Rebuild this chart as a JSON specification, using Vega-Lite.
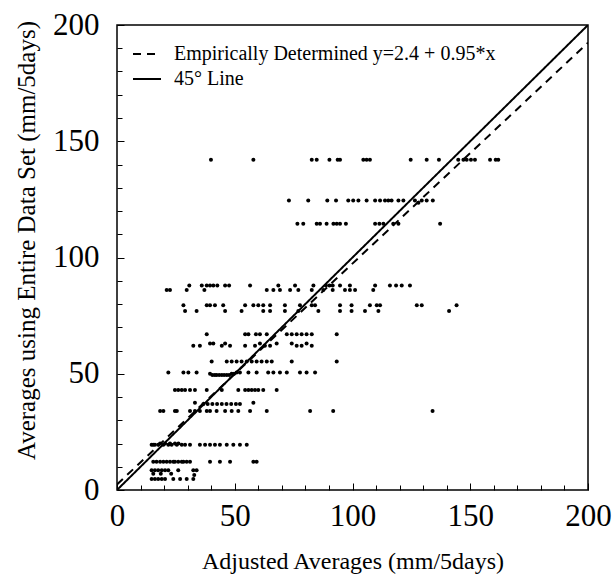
{
  "$schema": "https://vega.github.io/schema/vega-lite/v6.json",
  "width": 471,
  "height": 465,
  "autosize": {"type": "none"},
  "padding": {"left": 117, "top": 25, "right": 27, "bottom": 90},
  "background": "white",
  "config": {
    "font": "Liberation Serif",
    "view": {"stroke": "black", "strokeWidth": 1.5},
    "axis": {
      "grid": false,
      "domain": false,
      "tickColor": "black",
      "tickSize": -5,
      "tickWidth": 1,
      "labelColor": "black",
      "titleColor": "black",
      "labelFont": "Liberation Serif",
      "titleFont": "Liberation Serif",
      "labelFontSize": 31,
      "titleFontSize": 24,
      "titleFontWeight": "normal",
      "labelFlush": false,
      "labelOverlap": false
    }
  },
  "resolve": {"axis": {"x": "independent", "y": "independent"}},
  "datasets": {
    "pts": [
      {"x": 39.9, "y": 142}, {"x": 57.9, "y": 142}, {"x": 82.7, "y": 142}, {"x": 84.8, "y": 142}, {"x": 90.2, "y": 142}, {"x": 93.7, "y": 142}, {"x": 94.7, "y": 142}, {"x": 104.6, "y": 142}, {"x": 106, "y": 142}, {"x": 107.4, "y": 142}, {"x": 124.7, "y": 142}, {"x": 131.5, "y": 142}, {"x": 136.7, "y": 142}, {"x": 144.9, "y": 142}, {"x": 147.1, "y": 142}, {"x": 148.5, "y": 142}, {"x": 150.3, "y": 142}, {"x": 152, "y": 142}, {"x": 158.4, "y": 142}, {"x": 160.8, "y": 142}, {"x": 161.9, "y": 142},
      {"x": 73.0, "y": 124.5}, {"x": 81.2, "y": 124.5}, {"x": 89.3, "y": 124.5}, {"x": 93.0, "y": 124.5}, {"x": 98.2, "y": 124.5}, {"x": 100.3, "y": 124.5}, {"x": 102.5, "y": 124.5}, {"x": 106.0, "y": 124.5}, {"x": 109.6, "y": 124.5}, {"x": 111.7, "y": 124.5}, {"x": 113.8, "y": 124.5}, {"x": 115.2, "y": 124.5}, {"x": 116.6, "y": 124.5}, {"x": 119.5, "y": 124.5}, {"x": 121.6, "y": 124.5}, {"x": 126.5, "y": 124.5}, {"x": 128.0, "y": 123.5}, {"x": 129.4, "y": 124.5}, {"x": 131.5, "y": 124.5}, {"x": 134.1, "y": 124.5},
      {"x": 76.6, "y": 114.5}, {"x": 79.1, "y": 114.5}, {"x": 84.8, "y": 114.5}, {"x": 86.2, "y": 114.5}, {"x": 89.0, "y": 114.5}, {"x": 91.9, "y": 114.5}, {"x": 93.3, "y": 114.5}, {"x": 94.7, "y": 114.5}, {"x": 97.2, "y": 114.5}, {"x": 109.6, "y": 114.5}, {"x": 111.4, "y": 114.5}, {"x": 113.1, "y": 114.5}, {"x": 117.3, "y": 114.5}, {"x": 119.5, "y": 114.5}, {"x": 137.2, "y": 114.5},
      {"x": 30.7, "y": 88}, {"x": 36.0, "y": 88}, {"x": 38.1, "y": 88}, {"x": 39.5, "y": 88}, {"x": 40.9, "y": 88}, {"x": 42.6, "y": 88}, {"x": 45.9, "y": 88}, {"x": 47.6, "y": 88}, {"x": 56.5, "y": 88}, {"x": 68.5, "y": 88}, {"x": 75.6, "y": 88}, {"x": 83.4, "y": 88}, {"x": 88.7, "y": 88}, {"x": 90.2, "y": 88}, {"x": 91.6, "y": 88}, {"x": 94.7, "y": 88}, {"x": 98.9, "y": 88}, {"x": 109.6, "y": 88}, {"x": 115.9, "y": 88}, {"x": 118.5, "y": 88}, {"x": 120.9, "y": 88}, {"x": 124.4, "y": 88},
      {"x": 21.1, "y": 86}, {"x": 22.5, "y": 86}, {"x": 29.6, "y": 86}, {"x": 37.1, "y": 86}, {"x": 63.6, "y": 86}, {"x": 66.4, "y": 86}, {"x": 69.2, "y": 86}, {"x": 73.5, "y": 86}, {"x": 77.0, "y": 86}, {"x": 82.7, "y": 86}, {"x": 87.6, "y": 86}, {"x": 91.6, "y": 86}, {"x": 96.8, "y": 86}, {"x": 98.9, "y": 86}, {"x": 101.1, "y": 86}, {"x": 108.8, "y": 86},
      {"x": 28.2, "y": 79.5}, {"x": 38.1, "y": 79.5}, {"x": 39.5, "y": 79.5}, {"x": 41.6, "y": 79.5}, {"x": 45.1, "y": 79.5}, {"x": 54.4, "y": 79.5}, {"x": 57.9, "y": 79.5}, {"x": 60.0, "y": 79.5}, {"x": 62.1, "y": 79.5}, {"x": 65.0, "y": 79.5}, {"x": 71.3, "y": 79.5}, {"x": 77.7, "y": 79.5}, {"x": 82.7, "y": 79.5}, {"x": 84.1, "y": 79.5}, {"x": 94.7, "y": 79.5}, {"x": 99.6, "y": 79.5}, {"x": 107.4, "y": 79.5}, {"x": 110.3, "y": 79.5}, {"x": 111.7, "y": 79.5}, {"x": 127.3, "y": 79.5}, {"x": 129.4, "y": 79.5}, {"x": 144.2, "y": 79.5},
      {"x": 28.9, "y": 77}, {"x": 33.8, "y": 77}, {"x": 45.9, "y": 77}, {"x": 52.9, "y": 77}, {"x": 62.1, "y": 77}, {"x": 65.0, "y": 77}, {"x": 71.3, "y": 77}, {"x": 77.0, "y": 77}, {"x": 85.5, "y": 77}, {"x": 94.7, "y": 77}, {"x": 99.6, "y": 77}, {"x": 105.3, "y": 77}, {"x": 111.0, "y": 77}, {"x": 141.0, "y": 77},
      {"x": 38.1, "y": 67}, {"x": 54.4, "y": 67}, {"x": 55.8, "y": 67}, {"x": 59.0, "y": 67}, {"x": 60.7, "y": 67}, {"x": 63.6, "y": 67}, {"x": 72.1, "y": 67}, {"x": 74.2, "y": 67}, {"x": 76.3, "y": 67}, {"x": 78.4, "y": 67}, {"x": 80.5, "y": 67}, {"x": 82.7, "y": 67}, {"x": 93.3, "y": 67},
      {"x": 32.4, "y": 62}, {"x": 35.2, "y": 62}, {"x": 39.5, "y": 63}, {"x": 40.9, "y": 63}, {"x": 44.5, "y": 62}, {"x": 45.9, "y": 63}, {"x": 48.0, "y": 62}, {"x": 54.4, "y": 62}, {"x": 58.6, "y": 62}, {"x": 60.7, "y": 63}, {"x": 62.8, "y": 62}, {"x": 65.0, "y": 62}, {"x": 67.8, "y": 63}, {"x": 74.2, "y": 63}, {"x": 76.3, "y": 62}, {"x": 78.4, "y": 62}, {"x": 80.5, "y": 63}, {"x": 82.7, "y": 62},
      {"x": 40.2, "y": 55.3}, {"x": 46.6, "y": 55.3}, {"x": 48.7, "y": 55.3}, {"x": 50.8, "y": 55.3}, {"x": 52.9, "y": 55.3}, {"x": 55.1, "y": 55.3}, {"x": 57.2, "y": 55.3}, {"x": 59.3, "y": 55.3}, {"x": 61.4, "y": 55.3}, {"x": 63.6, "y": 55.3}, {"x": 65.7, "y": 55.3}, {"x": 74.2, "y": 55.3}, {"x": 93.3, "y": 55.3},
      {"x": 21.8, "y": 50.5}, {"x": 28.2, "y": 50.5}, {"x": 30.3, "y": 50.5}, {"x": 33.8, "y": 50.5}, {"x": 39.5, "y": 50}, {"x": 40.5, "y": 49.5}, {"x": 41.5, "y": 49.5}, {"x": 42.3, "y": 49.5}, {"x": 43.4, "y": 49.5}, {"x": 44.5, "y": 49.5}, {"x": 45.5, "y": 49.5}, {"x": 46.6, "y": 49.5}, {"x": 47.6, "y": 49.5}, {"x": 48.7, "y": 50}, {"x": 49.7, "y": 50}, {"x": 50.8, "y": 50.5}, {"x": 52.2, "y": 50.5}, {"x": 55.8, "y": 50.5}, {"x": 59.3, "y": 50.5}, {"x": 64.2, "y": 50.5}, {"x": 66.4, "y": 50.5}, {"x": 69.2, "y": 50.5}, {"x": 72.1, "y": 50.5}, {"x": 77.7, "y": 50.5}, {"x": 80.5, "y": 50.5}, {"x": 84.1, "y": 50.5},
      {"x": 24.6, "y": 43}, {"x": 26.0, "y": 43}, {"x": 27.5, "y": 43}, {"x": 28.9, "y": 43}, {"x": 31.0, "y": 43}, {"x": 33.1, "y": 43}, {"x": 38.1, "y": 43}, {"x": 44.5, "y": 43}, {"x": 51.5, "y": 43}, {"x": 54.4, "y": 43}, {"x": 55.8, "y": 43}, {"x": 57.2, "y": 43}, {"x": 58.6, "y": 43}, {"x": 60.0, "y": 43}, {"x": 62.1, "y": 43}, {"x": 67.8, "y": 43},
      {"x": 33.1, "y": 37.5}, {"x": 36.7, "y": 37}, {"x": 38.5, "y": 37}, {"x": 40.5, "y": 37}, {"x": 42.5, "y": 37}, {"x": 44.5, "y": 37}, {"x": 46.5, "y": 37}, {"x": 48.5, "y": 37}, {"x": 50.5, "y": 37}, {"x": 52.2, "y": 37}, {"x": 57.9, "y": 37.5},
      {"x": 18.3, "y": 34}, {"x": 19.7, "y": 34}, {"x": 24.6, "y": 34}, {"x": 25.4, "y": 34}, {"x": 31.0, "y": 34}, {"x": 33.1, "y": 34}, {"x": 35.2, "y": 34}, {"x": 38.1, "y": 34}, {"x": 39.5, "y": 34}, {"x": 42.3, "y": 34}, {"x": 45.9, "y": 34}, {"x": 48.7, "y": 34}, {"x": 51.5, "y": 34}, {"x": 56.5, "y": 34}, {"x": 63.6, "y": 34}, {"x": 82.0, "y": 34}, {"x": 91.8, "y": 34}, {"x": 134.0, "y": 34},
      {"x": 14.7, "y": 19.5}, {"x": 15.4, "y": 19.5}, {"x": 16.1, "y": 19.5}, {"x": 17.5, "y": 19.5}, {"x": 18.3, "y": 20}, {"x": 19.7, "y": 19.5}, {"x": 20.4, "y": 20}, {"x": 21.8, "y": 19.5}, {"x": 22.5, "y": 20}, {"x": 23.2, "y": 19.5}, {"x": 24.6, "y": 20}, {"x": 25.4, "y": 19.5}, {"x": 26.1, "y": 20}, {"x": 27.5, "y": 19.5}, {"x": 28.9, "y": 19.5}, {"x": 31.0, "y": 19.5}, {"x": 35.2, "y": 19.5}, {"x": 37.4, "y": 19.5}, {"x": 39.5, "y": 19.5}, {"x": 41.6, "y": 19.5}, {"x": 43.7, "y": 19.5}, {"x": 46.6, "y": 19.5}, {"x": 49.4, "y": 19.5}, {"x": 52.2, "y": 19.5}, {"x": 55.1, "y": 19.5},
      {"x": 15.4, "y": 12.2}, {"x": 16.8, "y": 12.2}, {"x": 18.3, "y": 12.2}, {"x": 19.7, "y": 12.2}, {"x": 21.1, "y": 12.2}, {"x": 22.5, "y": 12.2}, {"x": 23.9, "y": 12.2}, {"x": 24.6, "y": 12.2}, {"x": 26.0, "y": 12.2}, {"x": 27.5, "y": 12.2}, {"x": 28.2, "y": 12.2}, {"x": 29.6, "y": 12.2}, {"x": 31.0, "y": 12.2}, {"x": 39.5, "y": 12.2}, {"x": 43.7, "y": 12.2}, {"x": 48.0, "y": 12.2}, {"x": 57.9, "y": 12.2}, {"x": 59.3, "y": 12.2},
      {"x": 14.7, "y": 8.5}, {"x": 16.1, "y": 8.5}, {"x": 17.5, "y": 8.5}, {"x": 19.0, "y": 8.5}, {"x": 20.4, "y": 8.5}, {"x": 21.8, "y": 8.5}, {"x": 26.0, "y": 8.5}, {"x": 32.4, "y": 8.5}, {"x": 33.8, "y": 8.5}, {"x": 15.4, "y": 7}, {"x": 18.6, "y": 7}, {"x": 23.0, "y": 7}, {"x": 32.8, "y": 6.5},
      {"x": 14.7, "y": 4.7}, {"x": 16.1, "y": 4.7}, {"x": 17.5, "y": 4.7}, {"x": 19.0, "y": 4.7}, {"x": 20.4, "y": 4.7}, {"x": 23.9, "y": 4.7}, {"x": 26.8, "y": 4.7}, {"x": 29.6, "y": 4.7}, {"x": 32.4, "y": 4.7}
    ],
    "lines": [
      {"series": "Empirically Determined y=2.4 + 0.95*x", "x": 0, "y": 2.4},
      {"series": "Empirically Determined y=2.4 + 0.95*x", "x": 200, "y": 192.4},
      {"series": "45° Line", "x": 0, "y": 0},
      {"series": "45° Line", "x": 200, "y": 200}
    ]
  },
  "layer": [
    {
      "data": {"name": "pts"},
      "mark": {"type": "circle", "size": 16, "color": "black", "opacity": 1},
      "encoding": {
        "x": {
          "field": "x", "type": "quantitative",
          "scale": {"domain": [0, 200], "nice": false},
          "axis": {
            "orient": "bottom",
            "title": "Adjusted Averages (mm/5days)",
            "values": [0, 50, 100, 150, 200],
            "tickSize": -7,
            "labelOverlap": false,
            "labelPadding": 18,
            "titlePadding": 18
          }
        },
        "y": {
          "field": "y", "type": "quantitative",
          "scale": {"domain": [0, 200], "nice": false},
          "axis": {
            "orient": "left",
            "title": "Averages using Entire Data Set (mm/5days)",
            "titleFontSize": 25,
            "titleY": 215,
            "values": [0, 50, 100, 150, 200],
            "tickSize": -7,
            "labelOverlap": false,
            "labelPadding": 25,
            "titlePadding": 13
          }
        }
      }
    },
    {
      "data": {"name": "lines"},
      "mark": {"type": "line", "color": "black", "strokeWidth": 2, "clip": true},
      "encoding": {
        "x": {
          "field": "x", "type": "quantitative",
          "scale": {"domain": [0, 200], "nice": false},
          "axis": {"orient": "bottom", "title": null, "labels": false, "values": [10, 20, 30, 40, 60, 70, 80, 90, 110, 120, 130, 140, 160, 170, 180, 190], "tickSize": -5}
        },
        "y": {
          "field": "y", "type": "quantitative",
          "scale": {"domain": [0, 200], "nice": false},
          "axis": {"orient": "left", "title": null, "labels": false, "values": [10, 20, 30, 40, 60, 70, 80, 90, 110, 120, 130, 140, 160, 170, 180, 190], "tickSize": -5}
        },
        "strokeDash": {
          "field": "series", "type": "nominal",
          "scale": {"domain": ["Empirically Determined y=2.4 + 0.95*x", "45° Line"], "range": [[8, 6], [1, 0]]},
          "legend": {
            "title": null,
            "orient": "none",
            "legendX": 15,
            "legendY": 14,
            "padding": 0,
            "symbolType": "stroke",
            "symbolStrokeColor": "black",
            "symbolStrokeWidth": 2,
            "symbolSize": 784,
            "labelFont": "Liberation Serif",
            "labelFontSize": 20,
            "labelColor": "black",
            "labelLimit": 500,
            "labelOffset": 12,
            "rowPadding": -5
          }
        }
      }
    }
  ]
}
